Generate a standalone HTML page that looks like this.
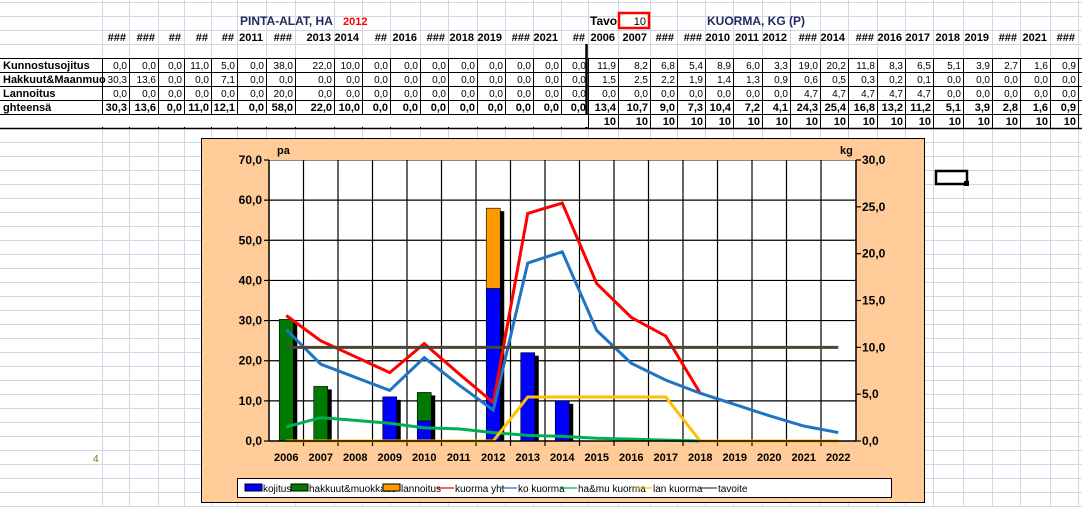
<!DOCTYPE html>
<html><head><meta charset="utf-8"><style>
html,body{margin:0;padding:0;background:#fff;}
svg{display:block;font-family:"Liberation Sans",Arial,sans-serif;}
</style></head><body>
<svg id="s" width="1082" height="507" viewBox="0 0 1082 507" xmlns="http://www.w3.org/2000/svg">
<g id="grid"></g>
<g id="table"></g>
<g id="chart"></g>
</svg>
<script>
const years=["2006","2007","2008","2009","2010","2011","2012","2013","2014","2015","2016","2017","2018","2019","2020","2021","2022"];
const haHeaders=["###","###","##","##","##","2011","###","2013","2014","##","2016","###","2018","2019","###","2021","##"];
const kgHeaders=["2006","2007","###","###","2010","2011","2012","###","2014","###","2016","2017","2018","2019","###","2021","###"];
const kojitus=[0,0,0,11,5,0,38,22,10,0,0,0,0,0,0,0,0];
const hakkuut=[30.3,13.6,0,0,7.1,0,0,0,0,0,0,0,0,0,0,0,0];
const lannoitus=[0,0,0,0,0,0,20,0,0,0,0,0,0,0,0,0,0];
const haTotal=[30.3,13.6,0,11,12.1,0,58,22,10,0,0,0,0,0,0,0,0];
const koKuorma=[11.9,8.2,6.8,5.4,8.9,6.0,3.3,19.0,20.2,11.8,8.3,6.5,5.1,3.9,2.7,1.6,0.9];
const haMuKuorma=[1.5,2.5,2.2,1.9,1.4,1.3,0.9,0.6,0.5,0.3,0.2,0.1,0,0,0,0,0];
const lanKuorma=[0,0,0,0,0,0,0,4.7,4.7,4.7,4.7,4.7,0,0,0,0,0];
const kuormaYht=[13.4,10.7,9.0,7.3,10.4,7.2,4.1,24.3,25.4,16.8,13.2,11.2,5.1,3.9,2.8,1.6,0.9];
const tavoite=[10,10,10,10,10,10,10,10,10,10,10,10,10,10,10,10,10];
const leftTicks=["0,0","10,0","20,0","30,0","40,0","50,0","60,0","70,0"];
const rightTicks=["0,0","5,0","10,0","15,0","20,0","25,0","30,0"];

const NS="http://www.w3.org/2000/svg";
function mk(parent,tag,attrs,text){const e=document.createElementNS(NS,tag);for(const k in attrs)e.setAttribute(k,attrs[k]);if(text!==undefined)e.textContent=text;parent.appendChild(e);return e;}
const fmt=v=>v.toFixed(1).replace('.',',');

// sheet gridlines
const G=document.getElementById('grid');
const colsL=[102,129,158,184,211,237,266,295,334,362,390,420,448,477,505,533,561,588];
const colsR=[588,618,650,677,705,733,762,790,820,848,877,905,933,963,992,1020,1050,1078];
const allCols=colsL.concat(colsR.slice(1));
for(const x of allCols){const l=mk(G,'line',{x1:x+0.5,y1:0,x2:x+0.5,y2:507,stroke:'#d0d7e5','stroke-width':1});

}
for(let y=2;y<507;y+=14){const l=mk(G,'line',{x1:0,y1:y+0.5,x2:1082,y2:y+0.5,stroke:'#d0d7e5','stroke-width':1});

}

// table
const T=document.getElementById('table');
for(let y=58;y<=128;y+=14){const l=mk(T,'line',{x1:0,y1:y+0.5,x2:1082,y2:y+0.5,stroke:'#000','stroke-width':1});

}
for(const x of allCols){const l=mk(T,'line',{x1:x+0.5,y1:58,x2:x+0.5,y2:128,stroke:'#000','stroke-width':1});

}
mk(T,'line',{x1:586.5,y1:44,x2:586.5,y2:128,stroke:'#000','stroke-width':2.5,});
mk(T,'rect',{x:0,y:115,width:1082,height:12,fill:'#fff',});
mk(T,'line',{x1:0,y1:128.5,x2:1082,y2:128.5,stroke:'#000','stroke-width':1.5,});
for(let i=0;i<colsR.length;i++){const x=colsR[i];mk(T,'line',{x1:x+0.5,y1:114,x2:x+0.5,y2:128,stroke:'#000','stroke-width':1,});}
mk(T,'text',{x:240,y:25,'font-size':12,'font-weight':'bold',fill:'#1f2a60',},'PINTA-ALAT, HA');
mk(T,'text',{x:343,y:25,'font-size':11,'font-weight':'bold',fill:'#ff0000',},'2012');
mk(T,'text',{x:590,y:25,'font-size':12,'font-weight':'bold',fill:'#000',},'Tavo');
mk(T,'rect',{x:619,y:13,width:30,height:15,fill:'#fff',stroke:'#ff0000','stroke-width':2.5,});
mk(T,'text',{x:646,y:25,'font-size':11,'text-anchor':'end',fill:'#000',},'10');
mk(T,'text',{x:707,y:25,'font-size':12,'font-weight':'bold',fill:'#1f2a60',},'KUORMA, KG (P)');
const rowsY=[69,83,97,111];
const labels=['Kunnostusojitus','Hakkuut&Maanmuo','Lannoitus','ghteensä'];
labels.forEach((t,r)=>{const e=mk(T,'text',{x:3,y:rowsY[r],'font-size':11,'font-weight':'bold',fill:'#000'},t);

});
const haRows=[kojitus,hakkuut,lannoitus,haTotal];
const kgRows=[koKuorma,haMuKuorma,lanKuorma,kuormaYht];
for(let i=0;i<17;i++){
 const h=mk(T,'text',{x:colsL[i+1]-3,y:41,'font-size':11,'font-weight':'bold','text-anchor':'end'},haHeaders[i]);
 
 
 const k=mk(T,'text',{x:colsR[i+1]-3,y:41,'font-size':11,'font-weight':'bold','text-anchor':'end'},kgHeaders[i]);
 
 
 for(let r=0;r<4;r++){
  const b=r===3;
  const a=mk(T,'text',{x:colsL[i+1]-2,y:rowsY[r],'font-size':b?11:10,'font-weight':b?'bold':'normal','text-anchor':'end'},fmt(haRows[r][i]));
  
  
  const c=mk(T,'text',{x:colsR[i+1]-2,y:rowsY[r],'font-size':b?11:10,'font-weight':b?'bold':'normal','text-anchor':'end'},fmt(kgRows[r][i]));
  
  
 }
 const t=mk(T,'text',{x:colsR[i+1]-2,y:125,'font-size':11,'font-weight':'bold','text-anchor':'end'},String(tavoite[i]));
 
 
}
mk(T,'text',{x:93,y:462,'font-size':10,fill:'#996600',},'4');
mk(T,'rect',{x:936,y:171,width:31,height:13,fill:'#fff',stroke:'#000','stroke-width':2.5,});
mk(T,'rect',{x:964,y:181,width:5,height:5,fill:'#000',});

// chart
const C=document.getElementById('chart');
const PL=269,PR=856,PT=160,PB=441,STEP=34.5;
const cx=i=>PL+STEP*(i+0.5);
const yL=v=>PB-(PB-PT)*v/70;
const yR=v=>PB-(PB-PT)*v/30;
mk(C,'rect',{x:201.5,y:138.5,width:723,height:364,fill:'#ffcc99',stroke:'#000','stroke-width':1,});
mk(C,'rect',{x:PL,y:PT,width:PR-PL,height:PB-PT,fill:'#fff',});
for(let k=1;k<7;k++){const l=mk(C,'line',{x1:PL,y1:yL(k*10),x2:PR,y2:yL(k*10),stroke:'#000','stroke-width':1.2});

}
mk(C,'line',{x1:PL,y1:PT+0.5,x2:PR,y2:PT+0.5,stroke:'#888','stroke-width':1,});
for(let k=1;k<17;k++){const l=mk(C,'line',{x1:PL+STEP*k,y1:PT,x2:PL+STEP*k,y2:PB+5,stroke:'#000','stroke-width':1.2});

}
// bars
const stacks=[[kojitus,'#0000ff','bar-kojitus'],[hakkuut,'#007a00','bar-hakkuut'],[lannoitus,'#ff9900','bar-lannoitus']];
for(let i=0;i<17;i++){
 const tot=kojitus[i]+hakkuut[i]+lannoitus[i];
 if(tot>0){const sh=mk(C,'rect',{x:cx(i)-3,y:yL(tot)+3,width:14,height:yL(0)-yL(tot)-3,fill:'#000'});
 
 }
 let base=0;
 for(const [arr,col,name] of stacks){
  const v=arr[i];if(v<=0)continue;
  const r=mk(C,'rect',{x:cx(i)-7,y:yL(base+v),width:14,height:yL(base)-yL(base+v),fill:col,stroke:'#000','stroke-width':0.6});
  
  
  base+=v;
 }
}
// lines
function line(arr,col,name,n){const pts=arr.slice(0,n).map((v,i)=>cx(i)+','+yR(v)).join(' ');
 const p=mk(C,'polyline',{points:pts,fill:'none',stroke:col,'stroke-width':3,'stroke-linejoin':'miter'});
 
 }
line(haMuKuorma,'#00b050','line-ha-mu-kuorma',17);
line(lanKuorma,'#ffc000','line-lan-kuorma',17);
line(kuormaYht,'#ff0000','line-kuorma-yht',13);
line(koKuorma,'#1f74c4','line-ko-kuorma',17);
line(tavoite,'#4a4630','line-tavoite',17);
// axes
mk(C,'line',{x1:PL,y1:PT,x2:PL,y2:PB,stroke:'#000','stroke-width':1.5,});
mk(C,'line',{x1:PR,y1:PT,x2:PR,y2:PB,stroke:'#000','stroke-width':1.5,});
mk(C,'line',{x1:PL,y1:PB,x2:PR,y2:PB,stroke:'#000','stroke-width':1.5,});
leftTicks.forEach((t,k)=>{const y=yL(k*10);
 const tk=mk(C,'line',{x1:PL-5,y1:y,x2:PL,y2:y,stroke:'#000','stroke-width':1.2});
 
 
 const e=mk(C,'text',{x:262,y:y+4,'font-size':12,'font-weight':'bold','text-anchor':'end'},t);
 
 });
rightTicks.forEach((t,k)=>{const y=yR(k*5);
 const tk=mk(C,'line',{x1:PR,y1:y,x2:PR+5,y2:y,stroke:'#000','stroke-width':1.2});
 
 
 const e=mk(C,'text',{x:862,y:y+4,'font-size':12,'font-weight':'bold'},t);
 
 });
years.forEach((t,i)=>{const e=mk(C,'text',{x:cx(i),y:461,'font-size':11,'font-weight':'bold','text-anchor':'middle'},t);
 
 });
mk(C,'text',{x:277,y:154,'font-size':11,'font-weight':'bold',},'pa');
mk(C,'text',{x:840,y:154,'font-size':11,'font-weight':'bold',},'kg');
// legend
mk(C,'rect',{x:237.5,y:478.5,width:654,height:19,fill:'#fff',stroke:'#000','stroke-width':1,});
const legItems=[['box','#0000ff','kojitus',245],['box','#007a00','hakkuut&muokkaus',291],['box','#ff9900','lannoitus',383],['line','#ff0000','kuorma yht',437],['line','#1f74c4','ko kuorma',500],['line','#00b050','ha&mu kuorma',560],['line','#ffc000','lan kuorma',635],['line','#4a4630','tavoite',700]];
for(const [k,col,lab,x] of legItems){
 if(k==='box'){const b=mk(C,'rect',{x:x,y:484,width:17,height:7,fill:col,stroke:'#000','stroke-width':1});
 
 }
 else{const l=mk(C,'line',{x1:x,y1:488,x2:x+17,y2:488,stroke:col,'stroke-width':1.2});
 
 }
 const t=mk(C,'text',{x:x+18,y:492,'font-size':10},lab);
 
 
}
</script>
</body></html>
